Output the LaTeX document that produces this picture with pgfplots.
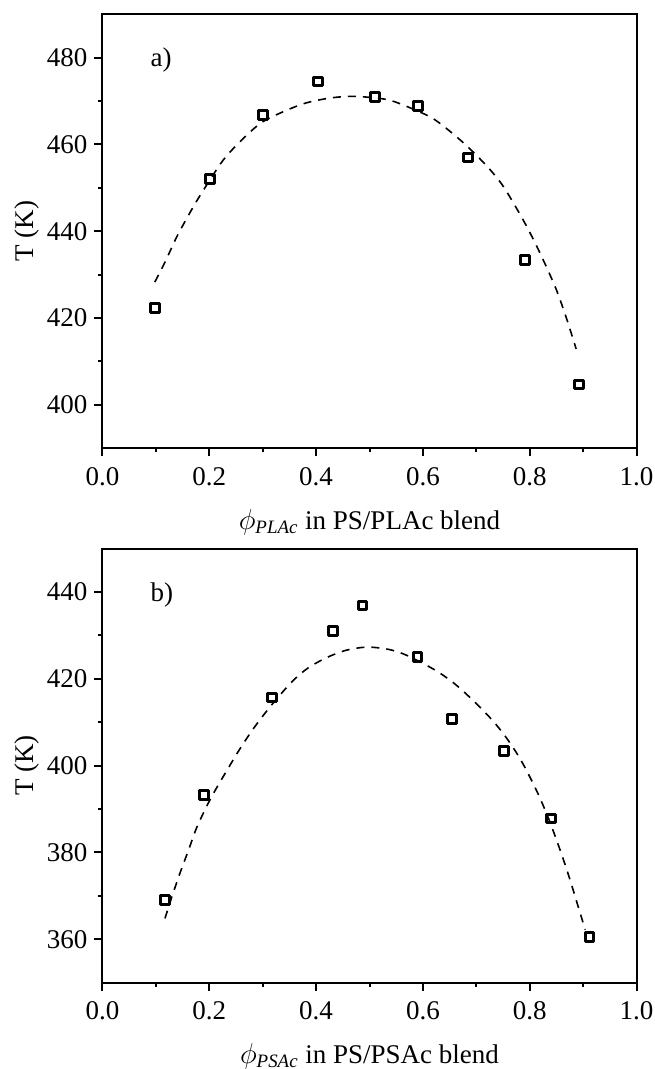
\documentclass[border=0pt]{standalone}
\usepackage{amsmath}
\usepackage{fontspec}
\setmainfont{Liberation Serif}
\usepackage{pgfplots}
\pgfplotsset{compat=1.18}
\pgfplotsset{panel/.style={
  scale only axis, width=267pt, height=217pt,
  xmin=0, xmax=1, xtick={0,0.2,0.4,0.6,0.8,1.0},
  minor x tick num=1, minor y tick num=1,
  tick pos=left, tick align=outside,
  major tick length=4pt, minor tick length=2pt,
  every tick/.style={black, line width=1pt},
  axis line style={line width=1pt},
  /pgf/number format/assume math mode=true,
  tick label style={font=\fontsize{13.5}{16}\selectfont},
  xticklabel style={yshift=-2pt, /pgf/number format/fixed, /pgf/number format/fixed zerofill, /pgf/number format/precision=1},
  label style={font=\fontsize{13.5}{16}\selectfont},
  ylabel={T (K)},
  ylabel style={at={(axis description cs:-0.141,0.5)}, anchor=center},
  xlabel style={at={(axis description cs:0.5,0)}, anchor=base, yshift=-40.5pt},
},
pts/.style={only marks, mark=square, mark size=2.2pt, black, line width=1.5pt, mark options={line join=round}},
fit/.style={black, line width=0.8pt, dash pattern=on 4pt off 3.5pt, smooth, tension=0.5, no marks},
}
\begin{document}
\begin{tikzpicture}
\path[use as bounding box] (-51.25pt,-310.35pt) rectangle (276.15pt,224.15pt);
\begin{axis}[panel, at={(0,0)}, anchor=south west,
  ymin=390, ymax=490, ytick={400,420,440,460,480},
  xlabel={$\phi_{\textit{PLAc}}$ in PS/PLAc blend}]
\addplot[fit] coordinates {
(0.098,428.3)(0.117,432.9)(0.139,438.7)(0.161,443.7)(0.183,448.3)(0.226,456.4)
(0.267,461.8)(0.301,465.3)(0.345,467.9)(0.382,469.6)(0.426,470.7)(0.470,471.1)
(0.526,470.5)(0.557,469.4)(0.613,466.4)(0.645,463.6)(0.682,459.7)(0.720,455.0)
(0.748,450.8)(0.772,446.0)(0.794,441.2)(0.813,436.6)(0.832,431.6)(0.851,426.2)
(0.869,419.9)(0.887,412.9)};
\addplot[pts] coordinates {
(0.098,422.3)(0.201,452.0)(0.301,466.8)(0.404,474.5)(0.510,470.9)
(0.591,468.9)(0.685,457.0)(0.791,433.3)(0.893,404.7)};
\node[anchor=west, font=\fontsize{13.5}{16}\selectfont] at (axis cs:0.077,479.5) {a)};
\end{axis}
\begin{axis}[panel, at={(0,-267.15pt)}, anchor=south west,
  ymin=350, ymax=450, ytick={360,380,400,420,440},
  xlabel={$\phi_{\textit{PSAc}}$ in PS/PSAc blend}]
\addplot[fit] coordinates {
(0.117,364.8)(0.130,369.8)(0.145,375.2)(0.161,380.5)(0.176,385.6)(0.195,390.6)
(0.211,394.3)(0.233,398.9)(0.254,403.2)(0.279,407.9)(0.307,412.5)(0.332,416.2)
(0.357,419.6)(0.385,422.5)(0.420,424.9)(0.457,426.6)(0.495,427.3)(0.535,426.8)
(0.570,425.4)(0.623,422.0)(0.660,418.8)(0.694,415.0)(0.729,410.6)(0.754,406.8)
(0.776,402.8)(0.794,398.9)(0.816,393.4)(0.835,387.9)(0.851,382.6)(0.866,377.3)
(0.879,372.3)(0.891,367.4)(0.904,362.2)};
\addplot[pts] coordinates {
(0.117,369.0)(0.190,393.3)(0.318,415.7)(0.431,431.0)(0.487,436.9)
(0.590,425.1)(0.654,410.8)(0.752,403.4)(0.840,387.8)(0.912,360.5)};
\node[anchor=west, font=\fontsize{13.5}{16}\selectfont] at (axis cs:0.077,439.4) {b)};
\end{axis}
\end{tikzpicture}
\end{document}
